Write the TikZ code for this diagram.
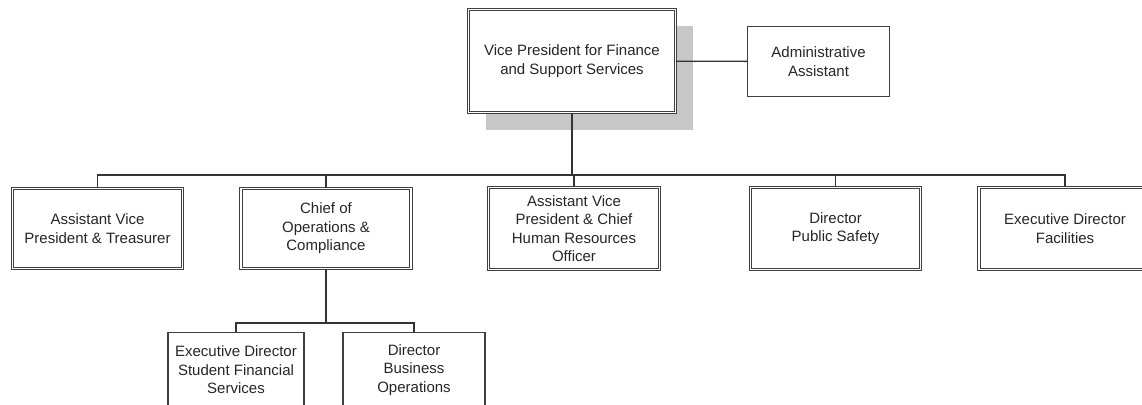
\documentclass[tikz,border=0pt]{standalone}
\usepackage{fontspec}
\setmainfont{Liberation Sans}
\usetikzlibrary{shadows}
\begin{document}
\begin{tikzpicture}[x=1pt, y=-1pt,
    every node/.style={font=\fontsize{15}{18.5}\selectfont, text=black!85, align=center, inner sep=0pt},
    dbox/.style={draw=black!75, double, double distance=1.8pt, line width=.9pt, fill=white},
    sbox/.style={draw=black!75, line width=1.1pt, fill=white},
    link/.style={draw=black!80, line width=1.3pt}]
\useasboundingbox (0,0) rectangle (1142,404);
\clip (0,0) rectangle (1142,404);

% top
\node[dbox, minimum width=207, minimum height=103,
      drop shadow={shadow xshift=17pt, shadow yshift=-17pt, fill=black!22, opacity=1}]
      (vp) at (572,61) {Vice President for Finance\\and Support Services};
\node[sbox, minimum width=142, minimum height=70] (admin) at (818.5,61.5) {Administrative\\Assistant};
\draw[link] (vp) -- (admin);

% second row
\coordinate (bus) at (0,175);
\node[dbox, minimum width=170, minimum height=80] (treas) at (97.5,228.5) {Assistant Vice\\President \& Treasurer};
\node[dbox, minimum width=170, minimum height=80] (chief) at (326,228.5) {Chief of\\Operations \&\\Compliance};
\node[dbox, minimum width=171, minimum height=82] (hr) at (574,228.5) {Assistant Vice\\President \& Chief\\Human Resources\\Officer};
\node[dbox, minimum width=170, minimum height=82] (safety) at (835.5,228.5) {Director\\Public Safety};
\node[dbox, minimum width=172, minimum height=82] (facil) at (1065,228.5) {Executive Director\\Facilities};
\foreach \n in {treas,chief,hr,safety,facil}
{
    \draw[link] (vp.south) -- (vp.south |- bus) -| (\n.north);
}

% third row
\coordinate (subbus) at (0,323);
\node[sbox, minimum width=136, minimum height=75] (sfs) at (236,370) {Executive Director\\Student Financial\\Services};
\node[sbox, minimum width=142, minimum height=75] (busops) at (414,370) {Director\\Business\\Operations};
\foreach \n in {sfs,busops}
{
    \draw[link] (chief.south) -- (chief.south |- subbus) -| (\n.north);
}

\end{tikzpicture}
\end{document}
